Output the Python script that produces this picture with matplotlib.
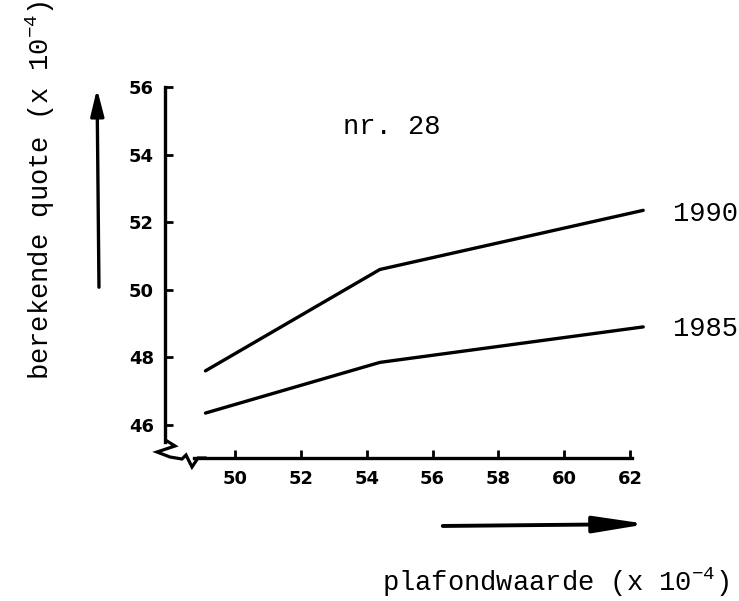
import matplotlib
matplotlib.use("Agg")
import matplotlib.pyplot as plt
from matplotlib.lines import Line2D

# ---- data (values x 10^-4) ----
plafond_points = [49.1, 54.4, 62.4]
quote_1990 = [47.6, 50.6, 52.35]
quote_1985 = [46.35, 47.85, 48.9]
series_labels = ["1990", "1985"]
x_ticks = [50, 52, 54, 56, 58, 60, 62]
y_ticks = [46, 48, 50, 52, 54, 56]
title_text = "nr. 28"
x_label = "plafondwaarde (x 10$^{\\mathsf{-4}}$)"
y_label = "berekende quote (x 10$^{\\mathsf{-4}}$)"

W, H = 739, 601
DPI = 100
plt.rcParams['mathtext.fontset'] = 'custom'
plt.rcParams['mathtext.rm'] = 'Liberation Mono'
plt.rcParams['mathtext.sf'] = 'Liberation Mono'
plt.rcParams['mathtext.it'] = 'Liberation Mono'

fig = plt.figure(figsize=(W / DPI, H / DPI), dpi=DPI)
fig.patch.set_facecolor("white")

def fx(px):
    return px / W

def fy(py):
    return 1 - py / H

# axes placement
left_px, right_px, top_px, bottom_px = 165, 646.5, 86, 458
ax = fig.add_axes([fx(left_px), fy(bottom_px), (right_px - left_px) / W, (bottom_px - top_px) / H])
ax.set_xlim(47.87, 62.5)
ax.set_ylim(45.02, 56.03)
ax.set_facecolor("white")

lw = 2.4
ax.plot(plafond_points, quote_1990, color="black", lw=lw, solid_capstyle="round", clip_on=False)
ax.plot(plafond_points, quote_1985, color="black", lw=lw, solid_capstyle="round", clip_on=False)

for s in ["top", "right"]:
    ax.spines[s].set_visible(False)
for s in ["left", "bottom"]:
    ax.spines[s].set_linewidth(2.4)
ax.spines["left"].set_bounds(45.5, 56.0)
ax.spines["bottom"].set_bounds(48.75, 62.06)

ax.set_xticks(x_ticks)
ax.set_yticks(y_ticks)
ax.tick_params(axis="both", direction="in", width=2.0, length=6, labelsize=13)
ax.tick_params(axis="x", pad=9)
ax.tick_params(axis="y", pad=8)
for lab in ax.get_xticklabels() + ax.get_yticklabels():
    lab.set_fontweight("bold")
    lab.set_fontfamily("DejaVu Sans")

# series labels
mono = "Liberation Mono"
fs = 19.5
ax.text(63.3, quote_1990[-1] - 0.1, series_labels[0], fontsize=fs, family=mono, va="center", ha="left", clip_on=False)
ax.text(63.3, quote_1985[-1] - 0.05, series_labels[1], fontsize=fs, family=mono, va="center", ha="left", clip_on=False)
ax.text(54.77, 54.82, title_text, fontsize=fs, family=mono, va="center", ha="center")

# axis labels
fig.text(fx(40), fy(190), y_label, rotation=90, fontsize=fs, family=mono, va="center", ha="center")
fig.text(fx(555), fy(582), x_label, fontsize=fs, family=mono, va="center", ha="center")

# axis break zigzag (decoration)
zz = [(167, 441), (175, 446), (157, 452), (170, 457), (182, 459), (186, 455), (192, 467), (198, 458), (205, 458)]
fig.add_artist(Line2D([fx(p[0]) for p in zz], [fy(p[1]) for p in zz], color="black", lw=2.3,
                      transform=fig.transFigure, solid_joinstyle="miter"))

# direction arrows
fig.add_artist(matplotlib.patches.FancyArrowPatch((fx(99), fy(290)), (fx(97), fy(86)),
               transform=fig.transFigure, arrowstyle="-|>,head_length=16,head_width=4",
               lw=2.4, color="black", mutation_scale=1))
fig.add_artist(matplotlib.patches.FancyArrowPatch((fx(440), fy(526)), (fx(650), fy(524)),
               transform=fig.transFigure, arrowstyle="-|>,head_length=32,head_width=5",
               lw=2.8, color="black", mutation_scale=1))

fig.savefig("out.png", dpi=DPI, facecolor="white")
